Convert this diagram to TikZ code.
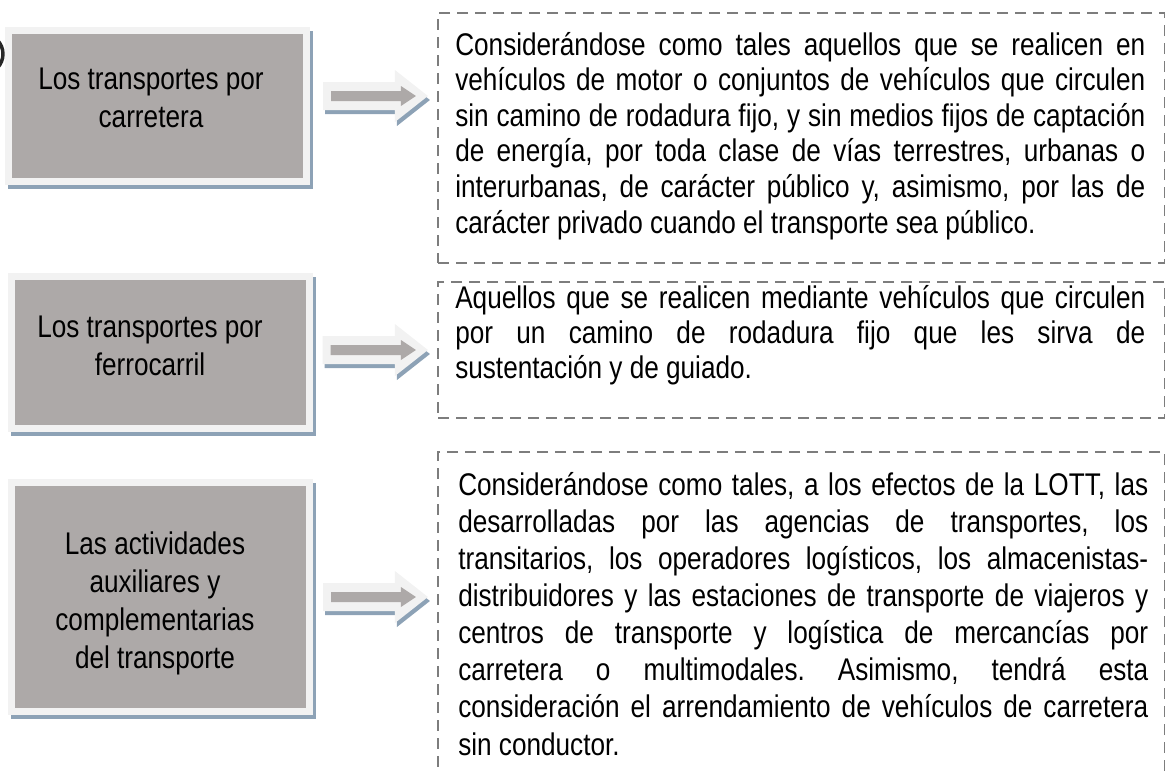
\documentclass[tikz,border=0pt]{standalone}
\usepackage{fontspec}
\setmainfont{Liberation Sans}[FakeStretch=0.835]
\usepackage{tikz}
\usetikzlibrary{positioning}
\usetikzlibrary{calc}
\definecolor{boxgray}{RGB}{173,169,168}
\definecolor{boxrim}{RGB}{242,242,242}
\definecolor{shadowblue}{RGB}{141,162,182}
\definecolor{dashgray}{RGB}{125,125,125}
\tikzset{cat node/.style={rectangle,fill=boxgray,draw=boxrim,line width=5.25pt,minimum width=223.5pt,inner sep=0pt,
            preaction={fill=shadowblue,draw=shadowblue,transform canvas={xshift=2.25pt,yshift=-3pt}}},
         cat text/.style={align=center,inner sep=0pt,anchor=base,font=\fontsize{23.5pt}{28.5pt}\selectfont},
         desc node/.style={rectangle,draw=dashgray,line width=1.6pt,dash pattern=on 8.25pt off 5.25pt,
            minimum width=545.25pt,inner sep=0pt},
         desc text/.style={align=left,inner sep=0pt,anchor=base west},
            }
\newlength\descw
\setlength\descw{517.5pt}
\newcommand\jl[1]{\makebox[\descw][s]{#1}}
% fat arrow from #1 to the tip #2
\newcommand\fatarrow[2]{%
  \fill[shadowblue,transform canvas={xshift=1.5pt,yshift=-3pt}] ($(#1)+(0,-14)$) -- ($(#2)+(-33,-14)$) -- ($(#2)+(-33,-26)$) -- (#2)
      -- ($(#2)+(-33,26)$) -- ($(#2)+(-33,14)$) -- ($(#1)+(0,14)$) -- cycle;
  \fill[boxrim] ($(#1)+(0,-14)$) -- ($(#2)+(-33,-14)$) -- ($(#2)+(-33,-26)$) -- (#2)
      -- ($(#2)+(-33,26)$) -- ($(#2)+(-33,14)$) -- ($(#1)+(0,14)$) -- cycle;
  \fill[boxgray] ($(#1)+(8,-5)$) -- ($(#2)+(-27,-5)$) -- ($(#2)+(-27,-10)$) -- ($(#2)+(-12,0)$)
      -- ($(#2)+(-27,10)$) -- ($(#2)+(-27,5)$) -- ($(#1)+(8,5)$) -- cycle;
}
\frenchspacing

\begin{document}
\begin{tikzpicture}[x=0.75pt,y=-0.75pt]
\useasboundingbox (0,0) rectangle (1165,772);
\clip (0,0) rectangle (1165,772);

% cut-off ring at the left border
\draw[line width=2.6pt,black!85] (-17,54) circle [radius=20];

 \node[cat node,minimum height=113.25pt] (carr) at (157.5,106) {};
 \node[cat node,minimum height=114pt] (ferr) at (160,352.5) {};
 \node[cat node,minimum height=171.75pt] (aux) at (160.5,597) {};

% text nodes sit on the baseline of their last line
 \node[cat text] (carrtxt) at (151,127) {Los transportes por\\carretera};
 \node[cat text] (ferrtxt) at (150,375) {Los transportes por\\ferrocarril};
 \node[cat text] (auxtxt) at (155,668) {Las actividades\\auxiliares y\\complementarias\\del transporte};

 \node[desc node,minimum height=187.5pt] (dcarr) at (801.5,138) {};
 \node[desc node,minimum height=102pt] (dferr) at (801.5,350) {};
 \node[desc node,minimum height=261pt] (daux) at (801.5,626) {};

 \node[desc text,font=\fontsize{23.5pt}{26.7pt}\selectfont] (tcarr) at (455,233) {%
\jl{Considerándose como tales aquellos que se realicen en}\\
\jl{vehículos de motor o conjuntos de vehículos que circulen}\\
\jl{sin camino de rodadura fijo, y sin medios fijos de captación}\\
\jl{de energía, por toda clase de vías terrestres, urbanas o}\\
\jl{interurbanas, de carácter público y, asimismo, por las de}\\
carácter privado cuando el transporte sea público.};

 \node[desc text,font=\fontsize{23.5pt}{25.9pt}\selectfont] (tferr) at (455,378) {%
\jl{Aquellos que se realicen mediante vehículos que circulen}\\
\jl{por un camino de rodadura fijo que les sirva de}\\
sustentación y de guiado.};

 \node[desc text,font=\fontsize{23.5pt}{27.8pt}\selectfont] (taux) at (458,755) {%
\jl{Considerándose como tales, a los efectos de la LOTT, las}\\
\jl{desarrolladas por las agencias de transportes, los}\\
\jl{transitarios, los operadores logísticos, los almacenistas-}\\
\jl{distribuidores y las estaciones de transporte de viajeros y}\\
\jl{centros de transporte y logística de mercancías por}\\
\jl{carretera o multimodales. Asimismo, tendrá esta}\\
\jl{consideración el arrendamiento de vehículos de carretera}\\
sin conductor.};

 \path (carr.east) ++(13,-10) coordinate (s1);
 \path (dcarr.west |- s1) ++(-9,0) coordinate (e1);
 \path (ferr.east) ++(10,-2.5) coordinate (s2);
 \path (dferr.west |- s2) ++(-9,0) coordinate (e2);
 \path (aux.east) ++(10,0) coordinate (s3);
 \path (daux.west |- s3) ++(-9,0) coordinate (e3);

 \fatarrow{s1}{e1}
 \fatarrow{s2}{e2}
 \fatarrow{s3}{e3}

\end{tikzpicture}
\end{document}
